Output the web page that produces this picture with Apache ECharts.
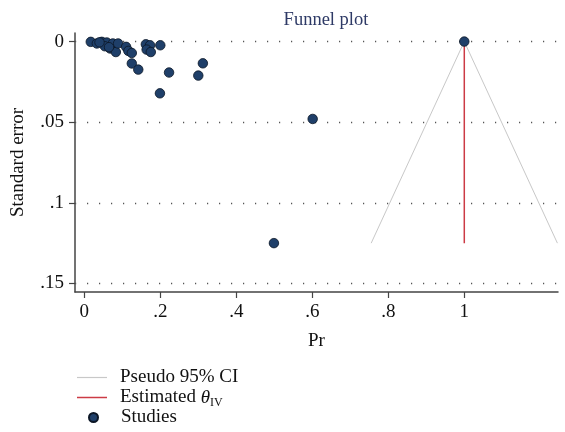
<!DOCTYPE html>
<html>
<head>
<meta charset="utf-8">
<script src="https://cdn.jsdelivr.net/npm/echarts@6/dist/echarts.min.js"></script>
<style>html,body{margin:0;padding:0;background:#fff}#c{width:565px;height:432px}</style>
</head>
<body>
<div id="c"></div>
<script>
const studiesPr = [0.017,0.033,0.046,0.059,0.054,0.068,0.075,0.083,0.089,0.040,0.065,0.110,0.116,0.125,0.125,0.142,0.162,0.173,0.164,0.175,0.200,0.223,0.199,0.300,0.312,0.601,0.499,1.000];
const studiesSE = [0.0002,0.0012,0.0002,0.0006,0.0029,0.0043,0.0012,0.0065,0.0012,0.0005,0.0035,0.0033,0.0058,0.0071,0.0136,0.0174,0.0017,0.0023,0.0050,0.0065,0.0023,0.0192,0.0321,0.0211,0.0135,0.0480,0.1250,0.0000];
const ciPr = [0.755,1.0,1.245];
const ciSE = [0.125,0.0,0.125];
const estPr = [1.0,1.0];
const estSE = [0.0,0.125];
const xTicks = [0,0.2,0.4,0.6,0.8,1];
const xTickLabels = ['0','.2','.4','.6','.8','1'];
const yTicks = [0,0.05,0.1,0.15];
const yTickLabels = ['0','.05','.1','.15'];
const legendNames = ['Pseudo 95% CI','Estimated θ','Studies'];

const FONT = 'Liberation Serif';
const FS = 19;
const chart = echarts.init(document.getElementById('c'));
const zip = (a,b)=>a.map((v,i)=>[v,b[i]]);
const baseText = {fontFamily:FONT,fontSize:FS,color:'#111'};
chart.setOption({
  animation:false,
  backgroundColor:'#fff',
  textStyle:{fontFamily:FONT},
  title:{text:'Funnel plot',left:321,top:6,textAlign:'center',
    textStyle:{fontFamily:FONT,fontWeight:'normal',fontSize:18.5,color:'#2e3a66'}},
  grid:{left:75,right:7,top:33,bottom:140,outerBoundsMode:'none',containLabel:false},
  xAxis:{type:'value',min:-0.0245,max:1.2466,
    name:'Pr',nameLocation:'middle',nameGap:40,
    nameTextStyle:baseText,
    axisLine:{show:true,onZero:false,lineStyle:{color:'#444',width:1.5}},
    axisTick:{show:true,length:6,customValues:xTicks,lineStyle:{color:'#444',width:1.2}},
    axisLabel:{customValues:xTicks,...baseText,margin:11,
      formatter:(v)=>xTickLabels[xTicks.findIndex(t=>Math.abs(t-v)<1e-9)]},
    splitLine:{show:false}},
  yAxis:{type:'value',inverse:true,min:-0.0053,max:0.1553,
    name:'Standard error',nameLocation:'middle',nameGap:47,nameRotate:90,
    nameTextStyle:baseText,
    axisLine:{show:true,onZero:false,lineStyle:{color:'#444',width:1.5}},
    axisTick:{show:true,length:6,customValues:yTicks,lineStyle:{color:'#444',width:1.2}},
    axisLabel:{customValues:yTicks,...baseText,margin:11,
      formatter:(v)=>yTickLabels[yTicks.findIndex(t=>Math.abs(t-v)<1e-9)]},
    splitLine:{show:false}},
  legend:[
    {left:77,top:368,padding:0,itemWidth:30,itemHeight:1.2,icon:'rect',data:[legendNames[0]],
      itemStyle:{color:'#c8c8c8'},textStyle:{...baseText,padding:[0,0,0,8]}},
    {left:77,top:388,padding:0,itemWidth:30,itemHeight:1.5,icon:'rect',data:[legendNames[1]],
      itemStyle:{color:'#cc3b45'},
      formatter:()=>'{a|Estimated }{t|θ}{s|IV}',
      textStyle:{...baseText,padding:[0,0,0,8],
        rich:{a:{...baseText},t:{...baseText,fontStyle:'italic'},
          s:{fontFamily:FONT,fontSize:12,color:'#111',padding:[11,0,0,0]}}}},
    {left:88,top:408,padding:0,itemWidth:9,itemHeight:9,icon:'circle',data:[legendNames[2]],
      textStyle:{...baseText,padding:[0,0,0,18]}}
  ],
  series:[
    {name:legendNames[0],type:'line',data:zip(ciPr,ciSE),symbol:'none',
      lineStyle:{color:'#c8c8c8',width:1},itemStyle:{color:'#c8c8c8'},z:2,
      markLine:{silent:true,symbol:'none',label:{show:false},
        lineStyle:{color:'#555',type:[1.2,10.8],width:1.3},
        data:yTicks.map(v=>({yAxis:v}))}},
    {name:legendNames[1],type:'line',data:zip(estPr,estSE),symbol:'none',
      lineStyle:{color:'#cc3b45',width:1.5},itemStyle:{color:'#cc3b45'},z:3},
    {name:legendNames[2],type:'scatter',data:zip(studiesPr,studiesSE),symbolSize:9.5,
      itemStyle:{color:'#1f3f69',borderColor:'#0b1626',borderWidth:0.8,opacity:1},z:5}
  ]
});
</script>
</body>
</html>
